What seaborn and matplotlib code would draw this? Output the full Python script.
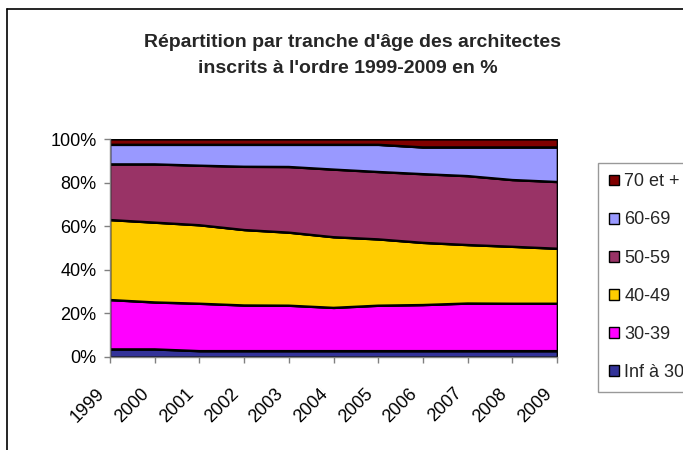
import matplotlib
matplotlib.use("Agg")
import matplotlib.pyplot as plt
import matplotlib.transforms as mtransforms
import seaborn as sns
import numpy as np
import pandas as pd
from matplotlib.patches import Rectangle
from matplotlib.lines import Line2D

years = [1999, 2000, 2001, 2002, 2003, 2004, 2005, 2006, 2007, 2008, 2009]
labels = ["Inf à 30", "30-39", "40-49", "50-59", "60-69", "70 et +"]
inf30 = [3.4, 3.4, 2.6, 2.6, 2.6, 2.6, 2.6, 2.6, 2.6, 2.6, 2.6]
a30_39 = [22.7, 21.6, 21.8, 21.0, 20.9, 19.9, 20.9, 21.2, 21.9, 21.8, 21.8]
a40_49 = [36.8, 36.7, 36.1, 34.7, 33.6, 32.5, 30.5, 28.6, 26.9, 26.2, 25.3]
a50_59 = [25.6, 26.8, 27.4, 29.1, 30.2, 31.1, 31.0, 31.6, 31.7, 30.7, 30.7]
a60_69 = [9.0, 9.0, 9.6, 10.1, 10.2, 11.4, 12.5, 12.3, 13.2, 15.0, 15.9]
a70 = [2.5, 2.5, 2.5, 2.5, 2.5, 2.5, 2.5, 3.7, 3.7, 3.7, 3.7]
colors = ["#333399", "#FF00FF", "#FFCC00", "#993366", "#9999FF", "#800000"]
yticks = [0, 20, 40, 60, 80, 100]
ytick_labels = ["0%", "20%", "40%", "60%", "80%", "100%"]

sns.set_theme(style="white")
plt.rcParams["font.family"] = ["Liberation Sans", "DejaVu Sans"]

df = pd.DataFrame({"year": years, labels[0]: inf30, labels[1]: a30_39, labels[2]: a40_49,
                   labels[3]: a50_59, labels[4]: a60_69, labels[5]: a70})
vals = df[labels].to_numpy().T
vals = vals / vals.sum(axis=0) * 100

fig = plt.figure(figsize=(6.83, 4.5), dpi=100)
ax = fig.add_axes([110 / 683, 1 - 356.7 / 450, (557 - 110) / 683, (356.7 - 139.3) / 450])
ax.stackplot(df["year"], vals, colors=colors, edgecolor="black", linewidth=1.2)
cum = np.cumsum(vals, axis=0)
for i in range(len(labels) - 1):
    sns.lineplot(x=df["year"], y=cum[i], ax=ax, color="black", linewidth=1.6)

ax.set_xlim(1999, 2009)
ax.set_ylim(0, 100)
ax.set_yticks(yticks)
ax.set_yticklabels(ytick_labels, fontsize=13)
ax.set_xticks(years)
ax.set_xticklabels([str(y) for y in years], rotation=45, ha="right", va="top",
                   rotation_mode="anchor", fontsize=13)
ax.set_xlabel("")
ax.set_ylabel("")
for s in ["top", "right"]:
    ax.spines[s].set_visible(False)
for s in ["left", "bottom"]:
    ax.spines[s].set_color("#808080")
    ax.spines[s].set_linewidth(1)
ax.tick_params(axis="both", which="both", direction="out", length=4.3, width=1,
               color="#808080", labelcolor="black", left=True, bottom=True)
ax.tick_params(axis="y", pad=5.5)
ax.tick_params(axis="x", pad=16)
shift = mtransforms.ScaledTranslation(-14 / 100, 0, fig.dpi_scale_trans)
for lab in ax.get_xticklabels():
    lab.set_transform(lab.get_transform() + shift)

handles = [Rectangle((0, 0), 1, 1, facecolor=c, edgecolor="black", linewidth=1) for c in colors]
leg = fig.legend(handles[::-1], labels[::-1], loc="upper left",
                 bbox_to_anchor=(598 / 683, 1 - 162.5 / 450), frameon=True,
                 fontsize=13, labelspacing=1.17, handlelength=0.55, handleheight=0.55,
                 handletextpad=0.3, borderpad=0.6, borderaxespad=0, fancybox=False)
leg.get_frame().set_edgecolor("#808080")
leg.get_frame().set_linewidth(1)

tfont = ["Liberation Sans", "DejaVu Sans"]
fig.text(352 / 683, 1 - 46.7 / 450, "Répartition par tranche d'âge des architectes",
         ha="center", va="baseline", fontsize=14, fontweight="bold", family=tfont)
fig.text(348 / 683, 1 - 73.3 / 450, "inscrits à l'ordre 1999-2009 en %",
         ha="center", va="baseline", fontsize=14, fontweight="bold", family=tfont)

fig.add_artist(Line2D([7 / 683, 7 / 683], [0, 1 - 9 / 450], transform=fig.transFigure,
                      color="black", linewidth=1.2))
fig.add_artist(Line2D([7 / 683, 1], [1 - 9 / 450, 1 - 9 / 450], transform=fig.transFigure,
                      color="black", linewidth=1.2))

fig.savefig("out.png", dpi=100)
